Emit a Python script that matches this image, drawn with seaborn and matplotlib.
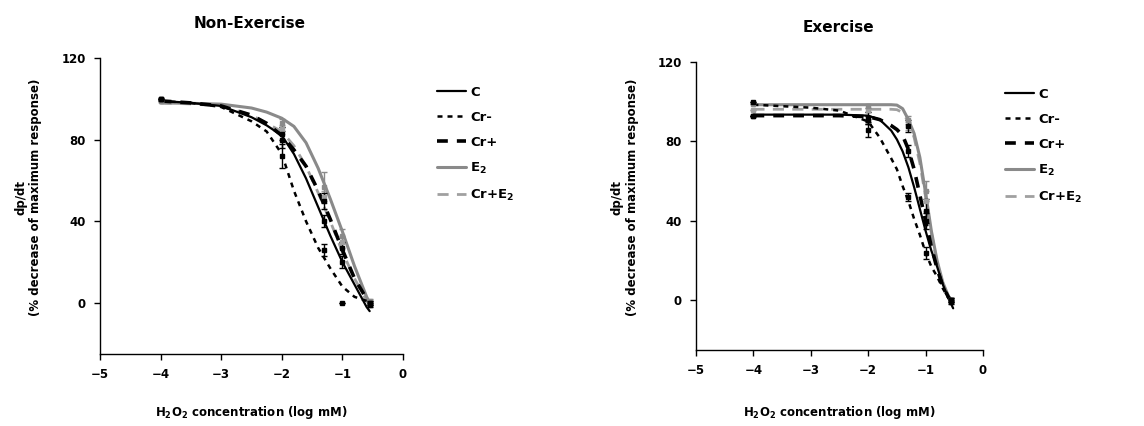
import numpy as np
import pandas as pd
import matplotlib
matplotlib.use("Agg")
import matplotlib.pyplot as plt
import seaborn as sns

# ---------------- data ----------------
series_names = ["C", "Cr-", "Cr+", "E2", "Cr+E2"]
legend_labels = ["C", "Cr-", "Cr+", "E$_2$", "Cr+E$_2$"]

# Non-Exercise panel: fitted curves sampled at these log concentrations
x_left = [-4.0, -3.5, -3.0, -2.5, -2.25, -2.0, -1.8, -1.6, -1.4, -1.2, -1.0, -0.8, -0.6, -0.55]
c_left = [99, 98, 96.5, 91, 87, 82, 73, 61, 47, 33, 20, 9, -2, -4]
crm_left = [99, 98, 96, 89, 84, 73, 55, 40, 27, 17, 8, 3, 1, 0.5]
crp_left = [99, 98, 96.5, 92, 88, 82, 75, 67, 55, 41, 26, 12, 2, 0]
e2_left = [98, 97.8, 97.4, 95.5, 93.5, 90.5, 86.5, 78.5, 66, 51, 35, 18, 3, 0]
cre2_left = [98, 97.5, 96.5, 92, 88, 84, 77, 67, 54, 40, 25, 12, 1, -1]

# Non-Exercise measured points (mean, SEM)
pts_left_x = [-4.0, -2.0, -1.3, -1.0, -0.55]
pts_left = {
    "C": ([100, 83, 40, 20, -1], [0, 3, 3, 3, 1]),
    "Cr-": ([100, 72, 26, 0, 0], [0, 6, 3, 0, 1]),
    "Cr+": ([100, 80, 50, 27, 0], [0, 4, 4, 3, 1]),
    "E2": ([99, 88, 57, 33, 1], [0, 2, 7, 3, 1]),
    "Cr+E2": ([99, 85, 52, 30, 0], [0, 2, 3, 3, 1]),
}

# Exercise panel
x_right = [-4.0, -3.0, -2.5, -2.0, -1.8, -1.6, -1.5, -1.4, -1.3, -1.2, -1.1, -1.0, -0.9, -0.8, -0.7, -0.6, -0.52]
c_right = [93.5, 93.5, 93.5, 93, 91, 85.5, 81, 75, 67, 57, 46, 35, 25, 17, 8, 1, -4]
crm_right = [98.5, 97, 95.5, 90, 82, 71.5, 66, 57.5, 50, 41, 33, 24, 17, 12, 6, 1, -1]
crp_right = [93, 93, 93, 92.5, 91, 88, 86, 83, 76, 66, 53, 40, 27, 16, 7, 1.5, -1]
e2_right = [98.5, 98.5, 98.5, 98.5, 98.5, 98.5, 98.3, 96.5, 91, 84, 72, 54, 35, 20, 9, 2, -1]
cre2_right = [96.2, 96.2, 96.2, 96.2, 96.2, 96.2, 96, 94.5, 90, 82, 69, 52, 34, 19, 8, 1.5, -1]

pts_right_x = [-4.0, -2.0, -1.3, -1.0, -0.55]
pts_right = {
    "C": ([93, 92, 75, 40, -1], [0, 3, 3, 4, 1]),
    "Cr-": ([100, 86, 52, 24, 0], [0, 4, 2, 3, 1]),
    "Cr+": ([93, 91, 88, 45, 0], [0, 2, 3, 6, 1]),
    "E2": ([99, 98, 91, 55, 0], [0, 1, 2, 5, 1]),
    "Cr+E2": ([96, 96, 88, 50, 0], [0, 1, 2, 5, 1]),
}

x_ticks = [-5, -4, -3, -2, -1, 0]
y_ticks = [0, 40, 80, 120]

# ---------------- styles ----------------
styles = {
    "C": dict(color="black", linestyle="-", linewidth=1.6),
    "Cr-": dict(color="black", linestyle=(0, (2.0, 2.0)), linewidth=1.8),
    "Cr+": dict(color="black", linestyle=(0, (3.0, 2.5)), linewidth=2.6),
    "E2": dict(color="#8a8a8a", linestyle="-", linewidth=2.2),
    "Cr+E2": dict(color="#a0a0a0", linestyle=(0, (4.0, 3.0)), linewidth=2.0),
}
draw_order = ["Cr+E2", "E2", "C", "Cr+", "Cr-"]

sns.set_theme(style="ticks")
plt.rcParams["font.family"] = ["DejaVu Sans"]
plt.rcParams["font.weight"] = "bold"
for key in ("text.color", "axes.labelcolor", "xtick.color", "ytick.color", "axes.edgecolor"):
    plt.rcParams[key] = "black"

fig = plt.figure(figsize=(11.44, 4.26), dpi=100)
W, H = 1144, 426

ax_l = fig.add_axes([100 / W, 1 - 354 / H, 303 / W, 296 / H])
ax_r = fig.add_axes([696 / W, 1 - 350 / H, 287 / W, 288 / H])

panels = [
    (ax_l, x_left, dict(zip(series_names, [c_left, crm_left, crp_left, e2_left, cre2_left])),
     pts_left_x, pts_left, "Non-Exercise", (250, 24), (437, 86), -0.169, -0.19),
    (ax_r, x_right, dict(zip(series_names, [c_right, crm_right, crp_right, e2_right, cre2_right])),
     pts_right_x, pts_right, "Exercise", (838, 27), (1005, 88), -0.1875, -0.20),
]

for ax, xs, curves, px, pts, title, tpos, lpos, xlab_y, ylab_x in panels:
    handles = {}
    for name in draw_order:
        df = pd.DataFrame({"x": xs, "y": curves[name]})
        sns.lineplot(data=df, x="x", y="y", ax=ax, label=name, **styles[name])
        line = ax.get_lines()[-1]
        handles[name] = line
        m, e = pts[name]
        col = styles[name]["color"]
        ax.errorbar(px, m, yerr=e, fmt="s", ms=2.5, color=col, ecolor=col,
                    elinewidth=1.0, capsize=2.5, capthick=1.0, linestyle="none")
    leg = ax.legend([handles[n] for n in series_names], legend_labels,
                    loc="upper left", bbox_to_anchor=(lpos[0] / W, 1 - lpos[1] / H),
                    bbox_transform=fig.transFigure, frameon=False, fontsize=9.5,
                    handlelength=2.2, handletextpad=0.3, labelspacing=0.9,
                    borderaxespad=0, borderpad=0)
    for t in leg.get_texts():
        t.set_fontweight("bold")
        t.set_color("black")

    ax.set_xlim(-5, 0)
    ax.set_ylim(-25, 120)
    ax.set_xticks(x_ticks)
    ax.set_yticks(y_ticks)
    ax.tick_params(axis="both", direction="out", length=4, width=1, labelsize=8.5, pad=6,
                   colors="black")
    for lab in ax.get_xticklabels() + ax.get_yticklabels():
        lab.set_fontweight("bold")
    sns.despine(ax=ax)
    for sp in ("left", "bottom"):
        ax.spines[sp].set_linewidth(1.0)
        ax.spines[sp].set_color("black")

    ax.set_xlabel("H$_2$O$_2$ concentration (log mM)", fontsize=8.5, fontweight="bold",
                  color="black")
    ax.xaxis.set_label_coords(0.5, xlab_y)
    ax.set_ylabel("dp/dt\n(% decrease of maximum response)", fontsize=8.5,
                  fontweight="bold", multialignment="center", color="black")
    ax.yaxis.set_label_coords(ylab_x, 0.53)

    fig.text(tpos[0] / W, 1 - tpos[1] / H, title, ha="center", va="center",
             fontsize=11, fontweight="bold", color="black")

fig.savefig("out.png", dpi=100, facecolor="white")
